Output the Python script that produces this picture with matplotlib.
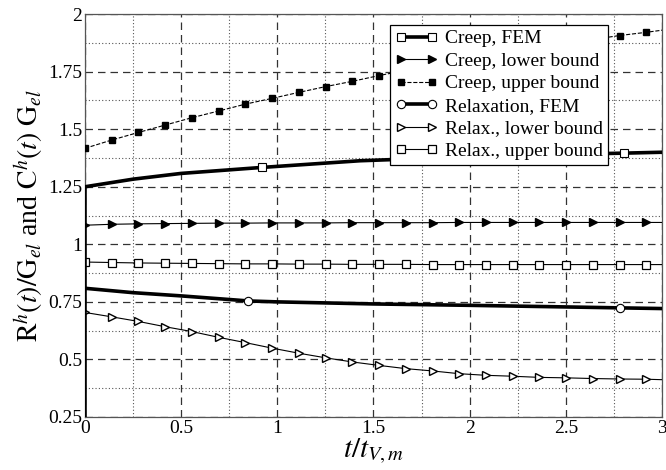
import matplotlib
matplotlib.use("Agg")
import matplotlib.pyplot as plt
from matplotlib.ticker import MultipleLocator
from matplotlib.lines import Line2D

# ---- data ----
t_b = [0, 0.139, 0.278, 0.417, 0.556, 0.695, 0.834, 0.973, 1.112, 1.251, 1.39,
       1.529, 1.668, 1.807, 1.946, 2.085, 2.224, 2.363, 2.502, 2.641, 2.78, 2.919, 3.0]
creep_upper = [1.417, 1.453, 1.486, 1.518, 1.550, 1.579, 1.609, 1.634, 1.660, 1.685, 1.708,
               1.733, 1.756, 1.778, 1.799, 1.819, 1.838, 1.856, 1.873, 1.890, 1.907, 1.921, 1.930]
creep_lower = [1.083, 1.087, 1.089, 1.090, 1.091, 1.092, 1.092, 1.093, 1.093, 1.093, 1.094,
               1.094, 1.094, 1.094, 1.095, 1.095, 1.095, 1.095, 1.095, 1.095, 1.095, 1.095, 1.095]
relax_lower = [0.704, 0.685, 0.665, 0.642, 0.621, 0.596, 0.573, 0.549, 0.527, 0.507, 0.489,
               0.474, 0.460, 0.450, 0.438, 0.431, 0.427, 0.422, 0.420, 0.417, 0.415, 0.414, 0.412]
relax_upper = [0.923, 0.921, 0.919, 0.918, 0.917, 0.916, 0.915, 0.915, 0.914, 0.914, 0.913,
               0.913, 0.913, 0.912, 0.912, 0.912, 0.912, 0.912, 0.912, 0.912, 0.912, 0.912, 0.912]

t_creep_fem = [0, 0, 0.25, 0.5, 0.92, 1.43, 2.0, 2.5, 2.8, 3.0]
creep_fem = [0.0, 1.25, 1.283, 1.308, 1.334, 1.363, 1.380, 1.391, 1.396, 1.400]
t_relax_fem = [0, 0.25, 0.5, 0.85, 1.0, 1.5, 2.0, 2.5, 2.78, 3.0]
relax_fem = [0.809, 0.790, 0.776, 0.754, 0.750, 0.741, 0.735, 0.728, 0.724, 0.721]

labels = ["Creep, FEM", "Creep, lower bound", "Creep, upper bound",
          "Relaxation, FEM", "Relax., lower bound", "Relax., upper bound"]

plt.rcParams['font.family'] = ['Liberation Serif', 'DejaVu Serif']
plt.rcParams['mathtext.fontset'] = 'stix'

fig = plt.figure(figsize=(6.66, 4.70), dpi=100)
ax = fig.add_axes([0.1276, 0.1128, 0.8664, 0.8572])

styles = [
    dict(ls='-', color='black', lw=2.6, marker='s', ms=5.5, mfc='white', mec='black', mew=0.8),
    dict(ls='-', color='black', lw=0.8, marker='>', ms=5.5, mfc='black', mec='black'),
    dict(ls='--', color='black', lw=0.8, marker='s', ms=5, mfc='black', mec='black'),
    dict(ls='-', color='black', lw=2.6, marker='o', ms=6, mfc='white', mec='black', mew=0.8),
    dict(ls='-', color='black', lw=0.8, marker='>', ms=6, mfc='white', mec='black', mew=1.0),
    dict(ls='-', color='black', lw=0.8, marker='s', ms=5.5, mfc='white', mec='black', mew=0.9),
]

mk = list(range(22))
ax.plot(t_creep_fem, creep_fem, markevery=[4, 8], zorder=5, **styles[0])
ax.plot(t_b, creep_lower, markevery=mk, zorder=4, **styles[1])
ax.plot(t_b, creep_upper, markevery=mk, zorder=4, **styles[2])
ax.plot(t_relax_fem, relax_fem, markevery=[3, 8], zorder=5, **styles[3])
ax.plot(t_b, relax_lower, markevery=mk, zorder=4, **styles[4])
ax.plot(t_b, relax_upper, markevery=mk, zorder=4, **styles[5])

ax.set_xlim(0, 3)
ax.set_ylim(0.25, 2)
ax.xaxis.set_minor_locator(MultipleLocator(0.25))
ax.yaxis.set_minor_locator(MultipleLocator(0.125))
ax.set_xticks([0, 0.5, 1, 1.5, 2, 2.5, 3])
ax.set_xticklabels(['0', '0.5', '1', '1.5', '2', '2.5', '3'])
ax.set_yticks([0.25, 0.5, 0.75, 1, 1.25, 1.5, 1.75, 2])
ax.set_yticklabels(['0.25', '0.5', '0.75', '1', '1.25', '1.5', '1.75', '2'])
ax.grid(which='major', linestyle=(0, (6, 4)), color='#333333', lw=0.9)
ax.grid(which='minor', linestyle=(0, (1, 2)), color='#555555', lw=0.8)
ax.set_axisbelow(True)
ax.tick_params(which='both', direction='in', length=0, labelsize=14, pad=2)
for s in ax.spines.values():
    s.set_color('#555555')
    s.set_linewidth(0.9)

ax.set_xlabel(r'$t/t_{V,m}$', fontsize=21, labelpad=0)
ax.set_ylabel(r'$\mathrm{R}^h(t)/\mathrm{G}_{el}$ and $\mathrm{C}^h(t)\ \mathrm{G}_{el}$',
              fontsize=20, labelpad=1)

proxies = [Line2D([], [], **st) for st in styles]
leg = ax.legend(proxies, labels, loc='upper right', bbox_to_anchor=(0.906, 0.973),
                fontsize=14, numpoints=2, frameon=True, fancybox=False,
                edgecolor='black', framealpha=1, labelspacing=0.25,
                handlelength=2.2, handletextpad=0.35, borderpad=0.25, borderaxespad=0)
leg.get_frame().set_linewidth(0.9)

fig.savefig('out.png', dpi=100)
